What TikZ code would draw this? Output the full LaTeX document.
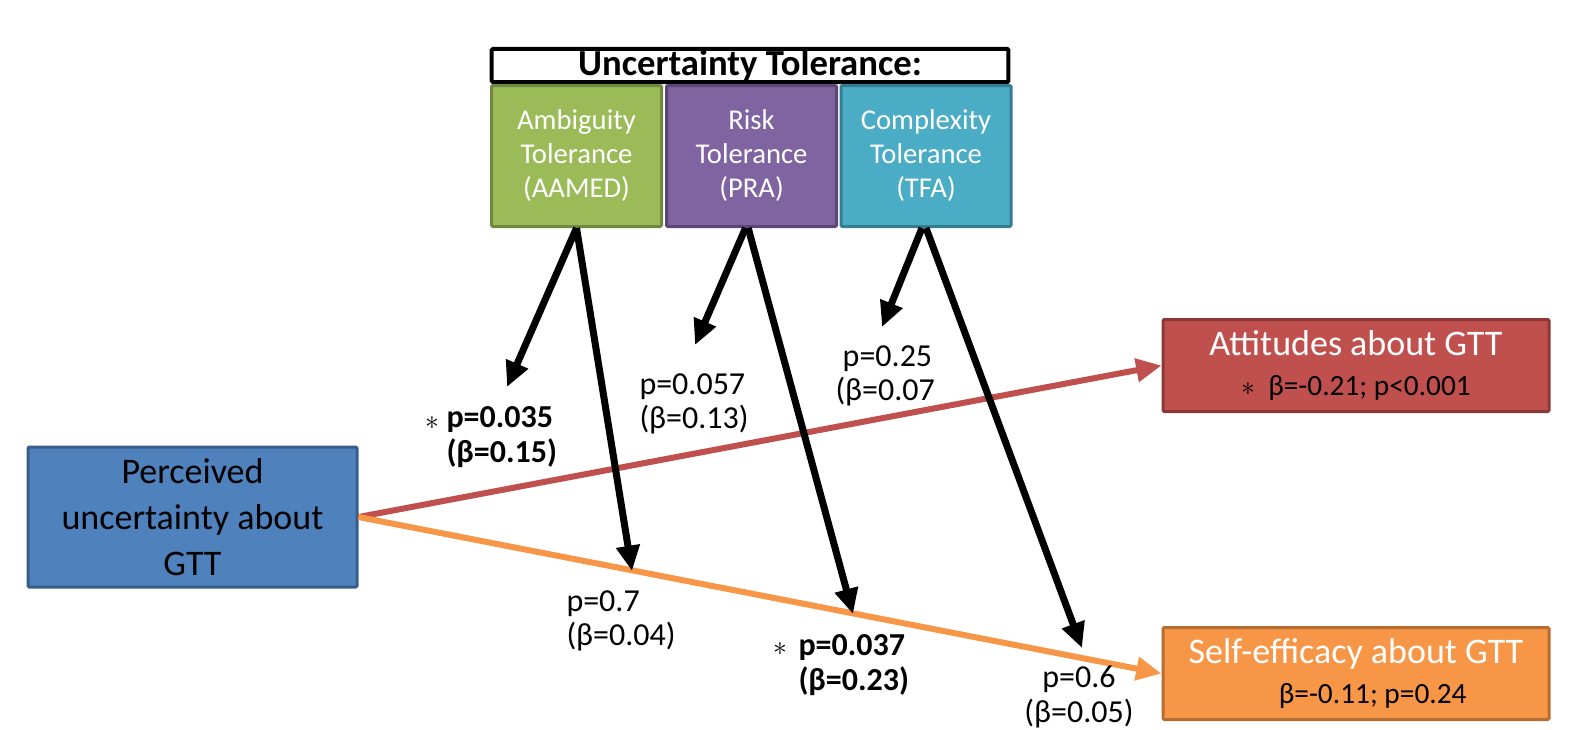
\documentclass[tikz,border=0pt]{standalone}
\usepackage{fontspec}
\setmainfont{Carlito}
\usetikzlibrary{arrows.meta}

\definecolor{ambfill}{HTML}{9BBB59}
\definecolor{ambline}{HTML}{71893F}
\definecolor{rskfill}{HTML}{8064A2}
\definecolor{rskline}{HTML}{5C4776}
\definecolor{cpxfill}{HTML}{4BACC6}
\definecolor{cpxline}{HTML}{357D91}
\definecolor{perfill}{HTML}{4F81BD}
\definecolor{perline}{HTML}{385D8A}
\definecolor{attfill}{HTML}{C0504D}
\definecolor{attline}{HTML}{8C3836}
\definecolor{slffill}{HTML}{F79646}
\definecolor{slfline}{HTML}{B66D31}

\tikzset{
  every picture/.style={line width=0.75pt},
  box/.style={draw, line width=2.25pt, rounded corners=1pt, align=center, inner sep=0pt},
  tolbox/.style={box, minimum width=127.5pt, minimum height=105.75pt, text=white,
    font=\fontsize{21.5}{25.5}\selectfont},
  outbox/.style={box, minimum width=289.5pt, minimum height=69pt,
    font=\fontsize{22}{30}\selectfont},
  blackarrow/.style={line width=5.25pt, -{Triangle[length=19pt,width=17pt]}},
  patharrow/.style={line width=4.5pt, -{Triangle[length=19pt,width=17pt]}},
  plabel/.style={align=left, anchor=west, inner sep=0pt, font=\fontsize{24}{26}\selectfont},
  starmark/.style={inner sep=0pt, font=\fontsize{20}{20}\selectfont}
}

\begin{document}
\begin{tikzpicture}[x=0.75pt,y=0.75pt,yscale=-1,xscale=1]
		\useasboundingbox (0,0) rectangle (1571,729);
		
		%Shape: Rectangle [id:title]
		\node [box, fill=white, line width=3pt, minimum width=387.5pt, minimum height=25pt,
		  font=\bfseries\fontsize{27.5}{29}\selectfont] (title) at (750,65.5) {Uncertainty Tolerance:};
		
		%Shape: Rectangle [id:amb]
		\node [tolbox, fill=ambfill, draw=ambline] (amb) at (576.5,156) {Ambiguity\\Tolerance\\(AAMED)};
		%Shape: Rectangle [id:rsk]
		\node [tolbox, fill=rskfill, draw=rskline] (rsk) at (751.5,156) {Risk\\Tolerance\\(PRA)};
		%Shape: Rectangle [id:cpx]
		\node [tolbox, fill=cpxfill, draw=cpxline] (cpx) at (926,156) {Complexity\\Tolerance\\(TFA)};
		
		%Shape: Rectangle [id:per]
		\node [box, fill=perfill, draw=perline, minimum width=246.75pt, minimum height=105pt,
		  font=\fontsize{27}{34.5}\selectfont] (per) at (192.5,517) {Perceived\\uncertainty about\\GTT};
		
		%Shape: Rectangle [id:att]
		\node [outbox, fill=attfill, draw=attline] (att) at (1356,365.5)
		  {{\color{white}\fontsize{27}{30}\selectfont Attitudes about GTT}\\$\ast$\ \ β=-0.21; p<0.001};
		%Shape: Rectangle [id:slf]
		\node [outbox, fill=slffill, draw=slfline] (slf) at (1356,673.5)
		  {{\color{white}\fontsize{27}{30}\selectfont Self-efficacy about GTT}\\\hspace*{25pt}β=-0.11; p=0.24};
		
		%Straight Lines [id:paths]
		\draw [patharrow, attfill] (per.east) -- (att.west) ;
		\draw [patharrow, slffill] (per.east) -- (slf.west) ;
		
		%Arrow ends
		\coordinate (tA1) at (507,387) ;
		\coordinate (tA2) at (632,571) ;
		\coordinate (tR1) at (695,345) ;
		\coordinate (tR2) at (853,614) ;
		\coordinate (tC1) at (882,327) ;
		\coordinate (tC2) at (1082,648) ;
		
		%Straight Lines [id:moderation]
		\draw [blackarrow] (amb.south) -- (tA1) ;
		\draw [blackarrow] (amb.south) -- (tA2) ;
		\draw [blackarrow] ([xshift=-4.5pt]rsk.south) -- (tR1) ;
		\draw [blackarrow] ([xshift=-2.5pt]rsk.south) -- (tR2) ;
		\draw [blackarrow] ([xshift=-3pt]cpx.south) -- (tC1) ;
		\draw [blackarrow] (cpx.south) -- (tC2) ;
		
		% Text Node
		\node [starmark] (sA1) at (432,423) {$\ast$};
		\node [plabel, font=\bfseries\fontsize{24}{26}\selectfont] (lA1) at (446,437) {p=0.035\\(β=0.15)};
		% Text Node
		\node [plabel] (lR1) at (639,404) {p=0.057\\(β=0.13)};
		% Text Node
		\node [plabel] (lC1) at (835,376) {\ p=0.25\\(β=0.07};
		% Text Node
		\node [plabel] (lA2) at (566,621) {p=0.7\\(β=0.04)};
		% Text Node
		\node [starmark] (sR2) at (780,649) {$\ast$};
		\node [plabel, font=\bfseries\fontsize{24}{26}\selectfont] (lR2) at (798,665) {p=0.037\\(β=0.23)};
		% Text Node
		\node [plabel, anchor=center, align=center] (lC2) at (1079,697) {p=0.6\\(β=0.05)};
		
\end{tikzpicture}
\end{document}
